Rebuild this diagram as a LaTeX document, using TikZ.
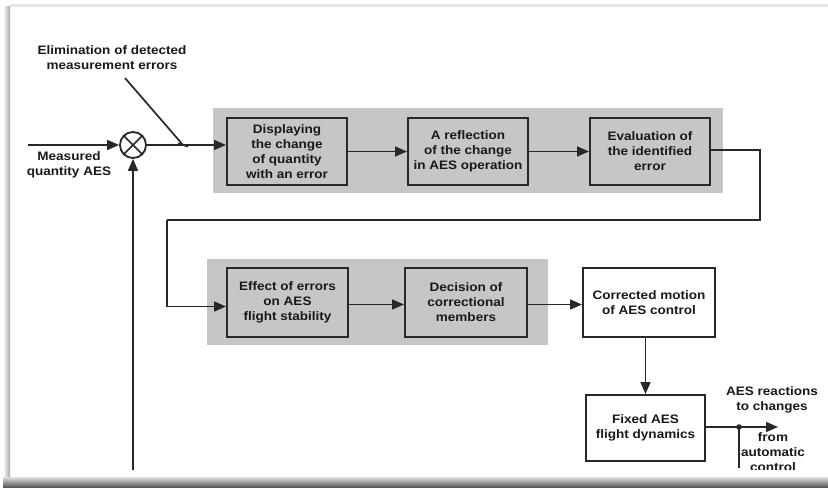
\documentclass[tikz,border=0pt]{standalone}
\usepackage{fontspec}
\setmainfont{Liberation Sans}[FakeStretch=1.1]
\usetikzlibrary{arrows.meta}

\definecolor{bandgray}{RGB}{198,198,198}
\definecolor{ink}{RGB}{40,40,40}
\definecolor{txt}{RGB}{25,25,25}

\begin{document}
\begin{tikzpicture}[x=1pt,y=-1pt,
  lbl/.style={font=\fontsize{12.3}{15}\selectfont\bfseries, text=txt, align=center, inner sep=0pt},
  blockbox/.style={lbl, draw=ink, line width=2pt, minimum height=67pt},
  grayblock/.style={blockbox, fill=bandgray},
  whiteblock/.style={blockbox, fill=white},
  band/.style={fill=bandgray, draw=none},
  wire/.style={draw=ink, line width=1.7pt},
  arr/.style={wire, -{Triangle[length=12pt,width=10pt]}},
]
% page card with a soft shadow
\useasboundingbox (0,0) rectangle (828,489);
\fill[white] (0,0) rectangle (828,489);
\shade[left color=white, right color=black!35] (3,7) rectangle (10,484);
\shade[top color=black!12, bottom color=black!65] (3,477) rectangle (828,487);
\fill[black!10] (10,4) rectangle (828,7);

% shaded groups
\fill[band] (213,108) rectangle (723,193);
\fill[band] (207,259) rectangle (548,345);

% blocks
\node[grayblock, minimum width=120pt] (b1) at (287,151.5)
  {Displaying\\the change\\of quantity\\with an error};
\node[grayblock, minimum width=120pt] (b2) at (468,151.5)
  {A reflection\\of the change\\in AES operation};
\node[grayblock, minimum width=120pt] (b3) at (650,151.5)
  {Evaluation of\\the identified\\error};
\node[grayblock, minimum width=121pt, minimum height=69pt] (b4) at (287.5,302.5)
  {Effect of errors\\on AES\\flight stability};
\node[grayblock, minimum width=122pt, minimum height=69pt] (b5) at (466,302.5)
  {Decision of\\correctional\\members};
\node[whiteblock, minimum width=132pt, minimum height=69pt] (b6) at (649,302.5)
  {Corrected motion\\of AES control};
\node[whiteblock, minimum width=119pt, minimum height=66pt] (b7) at (645.5,428)
  {Fixed AES\\flight dynamics};

% summing junction
\node[circle, draw=ink, line width=1.8pt, minimum size=26pt, inner sep=0pt] (sum) at (133,145) {};
\draw[wire] (sum.45) -- (sum.225) (sum.135) -- (sum.315);

% text labels
\node[lbl] (elim) at (112,57.5) {Elimination of detected\\measurement errors};
\node[lbl] (meas) at (69,165) {Measured\\quantity AES};
\node[lbl] (react) at (772,399.5) {AES reactions\\to changes};
\begin{scope}
  \clip (700,430) rectangle (828,469);
  \node[lbl] (auto) at (773,452) {from\\automatic\\control};
\end{scope}

% helper points
\coordinate (inp) at (28,145);
\coordinate (cut) at (183,145);
\coordinate (elimend) at (125,78);
\coordinate (fbfoot) at (133,470);
\coordinate (turnA) at (760,150);
\coordinate (turnB) at (167,220);
\coordinate (outend) at (778,427);
\coordinate (tap) at (739,427);
\coordinate (tapfoot) at (739,468);

% connectors
\draw[arr] (inp) -- (sum.west);
\draw[arr] (sum.east) -- (sum.east -| b1.west);
\draw[wire] (elimend) -- (cut);
\draw[wire] ([xshift=-5pt,yshift=1.5pt]cut) -- ([xshift=5pt,yshift=-1.5pt]cut);
\draw[arr] (fbfoot) -- (sum.south);
\draw[arr] (b1.east) -- (b2.west);
\draw[arr] (b2.east) -- (b3.west);
\draw[wire] (b3.east |- turnA) -- (turnA) |- (turnB);
\draw[arr] (turnB) |- ([yshift=-4pt]b4.west);
\draw[arr] ([yshift=-2pt]b4.east) -- ([yshift=-2pt]b5.west);
\draw[arr] ([yshift=-2pt]b5.east) -- ([yshift=-2pt]b6.west);
\draw[arr] (b7.north |- b6.south) -- (b7.north);
\draw[arr] (b7.east |- outend) -- (outend);
\fill[ink] (tap) circle (2.8pt);
\draw[wire] (tap) -- (tapfoot);
\end{tikzpicture}
\end{document}
